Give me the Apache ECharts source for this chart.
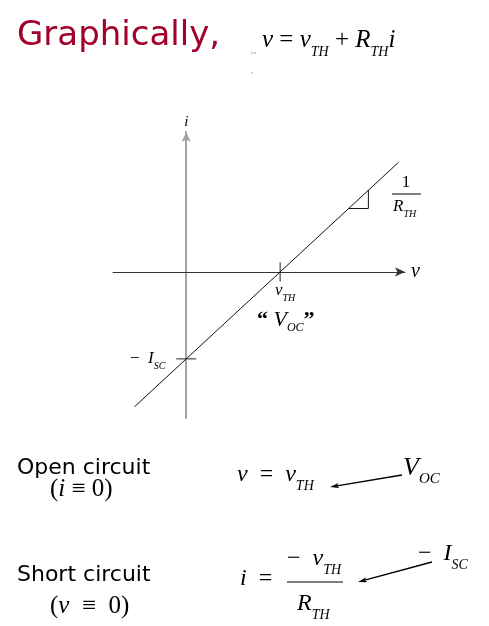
<!DOCTYPE html>
<html>
<head>
<meta charset="utf-8">
<script src="https://cdn.jsdelivr.net/npm/echarts@6/dist/echarts.min.js"></script>
<style>
html,body{margin:0;padding:0;background:#fff;}
#chart{width:489px;height:626px;}
</style>
</head>
<body>
<div id="chart"></div>
<script>
// ---- data (normalised units: v_TH = 1, I_SC = 1) ----
const vTH = 1;
const ISC = 1;
const lineV = [-0.55, 2.26];          // v values of the drawn characteristic line
const lineI = [-1.55, 1.26];          // i values of the drawn characteristic line
const triV = [1.73, 1.94, 1.94];      // slope triangle
const triI = [0.73, 0.73, 0.94];
const vRange = [-0.78, 2.33];
const iRange = [-1.68, 1.61];
const tickHalfI = 0.11;               // half-length of the tick at v_TH (i units)
const tickHalfV = 0.106;              // half-length of the tick at -I_SC (v units)

const SERIF = '"Liberation Serif", "DejaVu Serif", serif';
const COMIC = '"Comic Sans MS", "DejaVu Sans", sans-serif';

function zip(a, b) { return a.map((x, k) => [x, b[k]]); }

function richStyles(size, sub, dy) {
  const subLH = sub;
  const L = 2 * dy + subLH;
  return {
    i: {fontFamily: SERIF, fontStyle: 'italic', fontSize: size, lineHeight: L, verticalAlign: 'middle', color: '#000'},
    r: {fontFamily: SERIF, fontSize: size, lineHeight: L, verticalAlign: 'middle', color: '#000'},
    q: {fontFamily: SERIF, fontWeight: 'bold', fontSize: size, lineHeight: L, verticalAlign: 'middle', color: '#000'},
    s: {fontFamily: SERIF, fontStyle: 'italic', fontSize: sub, lineHeight: subLH, verticalAlign: 'bottom', color: '#000'}
  };
}
function mt(x, y, text, size, sub, dy, align) {
  return {
    type: 'text', x: x, y: y, silent: true,
    style: {text: text, rich: richStyles(size, sub, dy), align: align || 'left', verticalAlign: 'middle', fill: '#000'}
  };
}
function plain(x, y, text, size, color, family) {
  return {
    type: 'text', x: x, y: y, silent: true,
    style: {text: text, font: size + 'px ' + family, fill: color, align: 'left', verticalAlign: 'middle'}
  };
}
function hline(x1, x2, y) {
  return {type: 'line', silent: true, shape: {x1: x1, y1: y, x2: x2, y2: y}, style: {stroke: '#000', lineWidth: 1}};
}
function arrow(x1, y1, x2, y2) {
  const dx = x2 - x1, dy = y2 - y1, len = Math.hypot(dx, dy);
  const ux = dx / len, uy = dy / len, px = -uy, py = ux;
  const L = 9, W = 2.6;
  const bx = x2 - ux * L, by = y2 - uy * L;
  return [
    {type: 'line', silent: true, shape: {x1: x1, y1: y1, x2: bx + ux * 2, y2: by + uy * 2}, style: {stroke: '#000', lineWidth: 1.3}},
    {type: 'polygon', silent: true, shape: {points: [[x2, y2], [bx + px * W, by + py * W], [bx + ux * 2, by + uy * 2], [bx - px * W, by - py * W]]}, style: {fill: '#000'}}
  ];
}

const graphics = [
  plain(17, 36, 'Graphically,', 34, '#A3002B', COMIC),
  mt(262, 40, '{i|v}{r| = }{i|v}{s|TH}{r| + }{i|R}{s|TH}{i|i}', 25, 14, 12),
  {type: 'circle', silent: true, shape: {cx: 252, cy: 53, r: 0.7}, style: {fill: '#777'}},
  {type: 'circle', silent: true, shape: {cx: 255, cy: 53, r: 0.7}, style: {fill: '#777'}},
  {type: 'circle', silent: true, shape: {cx: 252, cy: 73, r: 0.7}, style: {fill: '#777'}},

  // chart annotations
  mt(406, 183, '{r|1}', 17, 11, 6, 'center'),
  hline(392, 421, 194),
  mt(393, 207, '{i|R}{s|TH}', 17, 10, 7),
  mt(275, 291, '{i|v}{s|TH}', 17, 10, 7),
  mt(257, 320, '{q|\u201C }{i|V}{s|OC}{q|\u201D}', 22, 12, 8),
  mt(130, 359, '{r|\u2212  }{i|I}{s|SC}', 17, 10, 7),

  // bottom part
  plain(17, 468, 'Open circuit', 22, '#000', COMIC),
  mt(50, 489, '{r|(}{i|i}{r| \u2261 0)}', 25, 14, 10),
  mt(237, 475, '{i|v}{r|  =  }{i|v}{s|TH}', 24, 14, 11),
  mt(403, 468, '{i|V}{s|OC}', 26, 15, 11),
  plain(17, 575, 'Short circuit', 22, '#000', COMIC),
  mt(50, 606, '{r|(}{i|v}{r|  \u2261  0)}', 25, 14, 10),
  mt(240, 579, '{i|i}{r|  =}', 24, 14, 11),
  mt(287, 559, '{r|\u2212  }{i|v}{s|TH}', 24, 14, 11),
  hline(287, 343, 582),
  mt(297, 604, '{i|R}{s|TH}', 24, 14, 11),
  mt(418, 554, '{r|\u2212  }{i|I}{s|SC}', 24, 14, 11)
].concat(arrow(402, 475, 330, 487)).concat(arrow(432, 562, 358, 582));

const option = {
  backgroundColor: '#fff',
  animation: false,
  grid: {left: 113, right: 84, top: 132, bottom: 208, containLabel: false},
  xAxis: {
    type: 'value', min: vRange[0], max: vRange[1],
    name: 'v', nameLocation: 'end', nameGap: 6,
    nameTextStyle: {fontFamily: SERIF, fontStyle: 'italic', fontSize: 20, color: '#000', padding: [0, 0, 4, 0]},
    axisLine: {show: true, onZero: true, symbol: ['none', 'arrow'], symbolSize: [7, 10], lineStyle: {color: '#333', width: 1}},
    axisTick: {show: false}, axisLabel: {show: false}, splitLine: {show: false}
  },
  yAxis: {
    type: 'value', min: iRange[0], max: iRange[1],
    name: 'i', nameLocation: 'end', nameGap: 2,
    nameTextStyle: {fontFamily: SERIF, fontStyle: 'italic', fontSize: 15, color: '#000'},
    axisLine: {show: true, onZero: true, symbol: ['none', 'arrow'], symbolSize: [7, 10], lineStyle: {color: '#a3a3a3', width: 2}},
    axisTick: {show: false}, axisLabel: {show: false}, splitLine: {show: false}
  },
  series: [
    {type: 'line', data: zip(lineV, lineI), symbol: 'none', lineStyle: {color: '#111', width: 1}, silent: true},
    {type: 'line', data: zip(triV, triI), symbol: 'none', lineStyle: {color: '#111', width: 1}, silent: true},
    {type: 'line', data: [[vTH, -tickHalfI], [vTH, tickHalfI]], symbol: 'none', lineStyle: {color: '#222', width: 1}, silent: true},
    {type: 'line', data: [[-tickHalfV, -ISC], [tickHalfV, -ISC]], symbol: 'none', lineStyle: {color: '#222', width: 1}, silent: true}
  ],
  graphic: graphics
};

const chart = echarts.init(document.getElementById('chart'), null, {renderer: 'canvas'});
chart.setOption(option);
</script>
</body>
</html>
